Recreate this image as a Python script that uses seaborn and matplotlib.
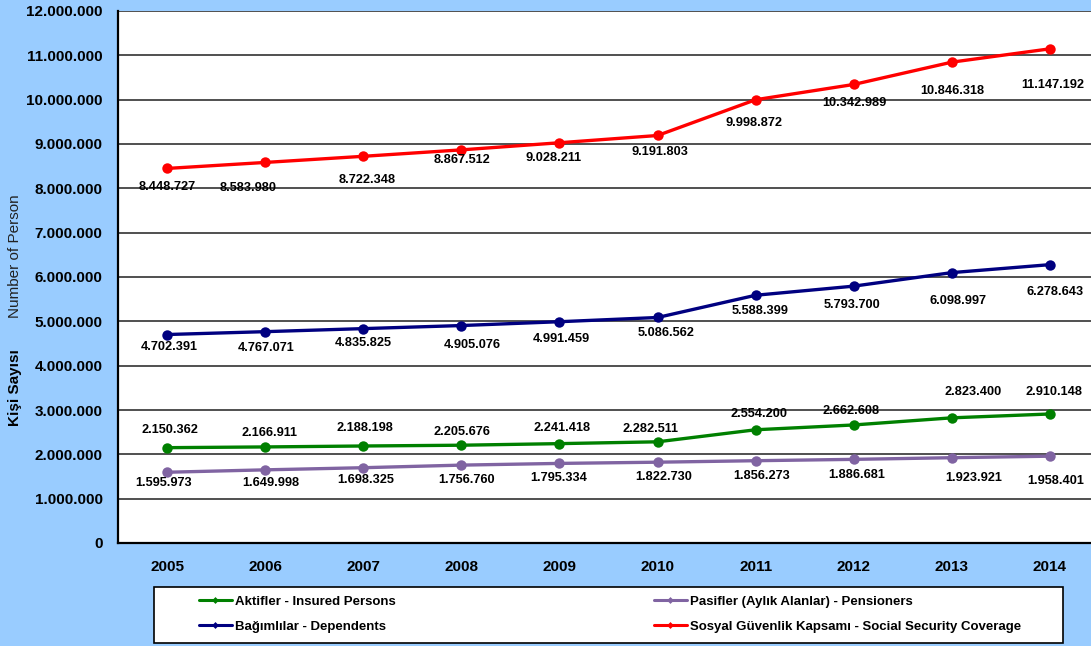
import numpy as np
import matplotlib
matplotlib.use("Agg")
import matplotlib.pyplot as plt
import seaborn as sns
from matplotlib.lines import Line2D
from matplotlib.patches import Rectangle
from matplotlib.ticker import FuncFormatter

# data
years = ["2005", "2006", "2007", "2008", "2009", "2010", "2011", "2012", "2013", "2014"]
aktif = [2150362, 2166911, 2188198, 2205676, 2241418, 2282511, 2554200, 2662608, 2823400, 2910148]
pasif = [1595973, 1649998, 1698325, 1756760, 1795334, 1822730, 1856273, 1886681, 1923921, 1958401]
bagimli = [4702391, 4767071, 4835825, 4905076, 4991459, 5086562, 5588399, 5793700, 6098997, 6278643]
sosyal = [8448727, 8583980, 8722348, 8867512, 9028211, 9191803, 9998872, 10342989, 10846318, 11147192]

labels = ["Aktifler - Insured Persons", "Pasifler (Aylık Alanlar) - Pensioners",
          "Bağımlılar - Dependents", "Sosyal Güvenlik Kapsamı - Social Security Coverage"]
colors = ["#008000", "#8064A2", "#000080", "#FF0000"]

# label offsets in pixels (dx, dy with y pointing down)
off_aktif = [(3, -18), (4, -14), (2, -18), (1, -13), (3, -16), (-7, -13), (3, -16), (-3, -14), (21, -26), (4, -22)]
off_pasif = [(-3, 11), (6, 13), (2, 12), (5, 15), (-1, 15), (6, 15), (6, 15), (3, 16), (22, 20), (6, 25)]
off_bagimli = [(2, 12), (1, 16), (0, 14), (11, 19), (2, 17), (9, 16), (4, 16), (-2, 19), (6, 28), (5, 27)]
off_sosyal = [(0, 19), (-17, 26), (4, 24), (1, 10), (-6, 15), (2, 17), (-2, 23), (1, 19), (0, 29), (3, 36)]

sns.set_style("white")
plt.rcParams["font.family"] = ["Liberation Sans", "DejaVu Sans"]
plt.rcParams["text.color"] = "black"
plt.rcParams["xtick.color"] = "black"
plt.rcParams["ytick.color"] = "black"

bg = "#99CCFF"
fig = plt.figure(figsize=(10.91, 6.46), dpi=100, facecolor=bg)
ax = fig.add_axes([118 / 1091, 103 / 646, 981 / 1091, 532 / 646])
ax.set_facecolor("white")

x = np.arange(len(years))
series = [aktif, pasif, bagimli, sosyal]
offsets = [off_aktif, off_pasif, off_bagimli, off_sosyal]
for vals, col, offs in zip(series, colors, offsets):
    sns.lineplot(x=x, y=vals, ax=ax, color=col, linewidth=2.4, marker="o",
                 markersize=7.5, markeredgewidth=0, zorder=3)
    for xi, v, (dx, dy) in zip(x, vals, offs):
        txt = f"{v:,}".replace(",", ".")
        ax.annotate(txt, (xi, v), xytext=(dx, -dy), textcoords="offset pixels",
                    ha="center", va="center", fontsize=9.2, fontweight="bold",
                    color="black", zorder=4)

ax.set_xlim(-0.5, 9.5)
ax.set_ylim(0, 12000000)
ax.set_yticks(np.arange(0, 12000001, 1000000))
ax.yaxis.set_major_formatter(FuncFormatter(lambda v, p: f"{int(v):,}".replace(",", ".")))
ax.set_xticks(x)
ax.set_xticklabels(years)
ax.set_xticks(np.arange(-0.5, 10, 1), minor=True)
ax.tick_params(axis="x", which="major", length=0, pad=12, labelsize=11, labelcolor="black")
ax.tick_params(axis="x", which="minor", length=4, width=1, direction="out", color="black")
ax.tick_params(axis="y", length=4, width=1, direction="out", color="black", pad=7,
               labelsize=11, labelcolor="black")
for t in ax.get_xticklabels() + ax.get_yticklabels():
    t.set_fontweight("bold")

ax.grid(axis="y", color="#202020", linewidth=1.1, zorder=0)
ax.set_axisbelow(True)
for s in ["top", "right"]:
    ax.spines[s].set_visible(False)
for s in ["left", "bottom"]:
    ax.spines[s].set_color("black")
    ax.spines[s].set_linewidth(1.6)
ax.set_xlabel("")
ax.set_ylabel("")

# y axis titles
fig.text(15 / 1091, (646 - 388) / 646, "Kişi Sayısı", rotation=90, ha="center", va="center",
         fontsize=11, fontweight="bold", color="black")
fig.text(15 / 1091, (646 - 256) / 646, "Number of Person", rotation=90, ha="center", va="center",
         fontsize=11, color="#222222")

# legend box
fig.patches.append(Rectangle((154 / 1091, 3 / 646), 909 / 1091, 56 / 646, transform=fig.transFigure,
                             facecolor="white", edgecolor="black", linewidth=1.2, zorder=1))

def handle(c):
    return Line2D([], [], color=c, linewidth=2.2, marker="D", markersize=3.5, markeredgewidth=0)

leg_kw = dict(frameon=False, loc="center left", borderpad=0, borderaxespad=0, handlelength=2.5,
              handletextpad=0.2, labelspacing=0.95, labelcolor="black",
              prop={"size": 9.5, "weight": "bold"})
l1 = fig.legend([handle(colors[0]), handle(colors[2])], [labels[0], labels[2]],
                bbox_to_anchor=(199 / 1091, 32 / 646), **leg_kw)
l2 = fig.legend([handle(colors[1]), handle(colors[3])], [labels[1], labels[3]],
                bbox_to_anchor=(654 / 1091, 32 / 646), **leg_kw)
l1.set_zorder(2)
l2.set_zorder(2)

fig.savefig("out.png", dpi=100, facecolor=bg)
